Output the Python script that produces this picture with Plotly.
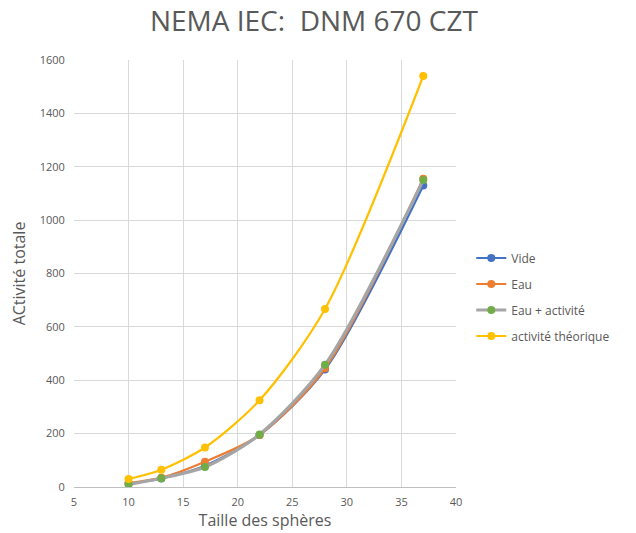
import plotly.graph_objects as go

sizes = [10, 13, 17, 22, 28, 37]
vide = [12, 32, 80, 195, 440, 1130]
eau = [15, 35, 95, 195, 445, 1155]
eau_act = [10, 33, 75, 197, 458, 1150]
theorique = [30, 65, 148, 325, 667, 1540]

series = [
    ("Vide", vide, "#4472C4", "#4472C4"),
    ("Eau", eau, "#ED7D31", "#ED7D31"),
    ("Eau + activité", eau_act, "#A5A5A5", "#70AD47"),
    ("activité théorique", theorique, "#FFC000", "#FFC000"),
]

fig = go.Figure()
for i, (name, vals, lc, mc) in enumerate(series):
    fig.add_trace(go.Scatter(
        x=sizes, y=vals, name=name, mode="lines+markers",
        line=dict(color=lc, width=3.2 if lc == "#A5A5A5" else 2.2, shape="spline", smoothing=0.8),
        marker=dict(color=mc, size=8),
        legendgroup=f"g{i}",
    ))

fig.update_layout(
    width=636, height=533,
    paper_bgcolor="white", plot_bgcolor="white",
    margin=dict(l=66, r=188, t=52, b=54),
    title=dict(text="NEMA IEC:  DNM 670 CZT", x=0.481, xanchor="center", y=1.0, yanchor="top",
               pad=dict(t=3, b=0),
               font=dict(family="Open Sans, Calibri, sans-serif", size=28, color="#595959")),
    font=dict(family="Open Sans, sans-serif", color="#595959", size=11),
    legend=dict(x=1.04, y=0.445, xanchor="left", yanchor="middle", traceorder="grouped",
                tracegroupgap=7, font=dict(size=12, color="#595959"), itemwidth=30),
    showlegend=True,
)
fig.update_xaxes(range=[5, 40], dtick=5, showgrid=True, gridcolor="#D9D9D9", zeroline=False,
                 showline=True, linecolor="#BFBFBF", ticks="outside", ticklen=5,
                 tickcolor="rgba(0,0,0,0)", tickfont=dict(size=11, color="#595959"), automargin=False,
                 title=dict(text="Taille des sphères", font=dict(size=16, color="#595959"), standoff=4))
fig.update_yaxes(range=[0, 1600], dtick=200, showgrid=True, gridcolor="#D9D9D9", zeroline=False,
                 showline=False, ticks="outside", ticklen=6, tickcolor="rgba(0,0,0,0)",
                 tickfont=dict(size=11, color="#595959"), automargin=False,
                 title=dict(text="ACtivité totale", font=dict(size=16, color="#595959"), standoff=10))

fig.write_html("out.html")
